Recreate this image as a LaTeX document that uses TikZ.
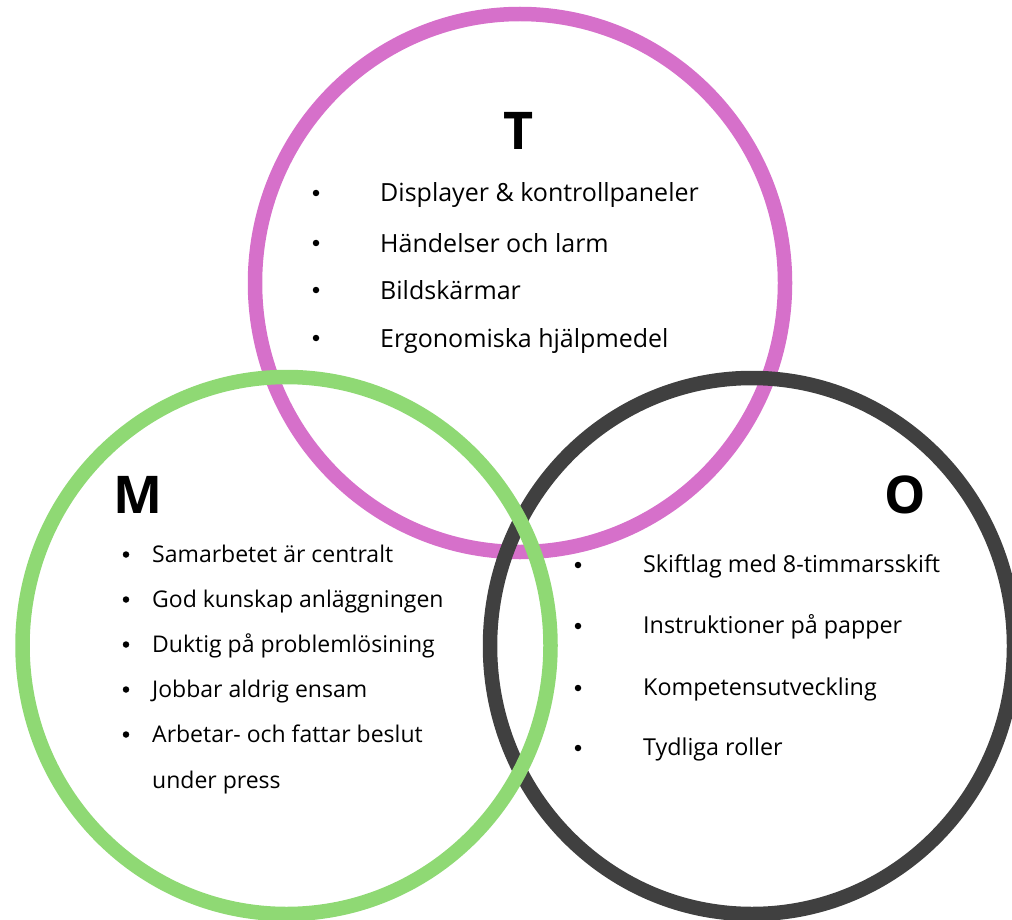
\documentclass[tikz,border=0pt]{standalone}
\usepackage{fontspec}
\setmainfont{Open Sans}
\definecolor{tpink}{RGB}{214,112,202}
\definecolor{mgreen}{RGB}{143,217,116}
\definecolor{odark}{RGB}{64,64,64}
\tikzset{
  ring/.style={line width=14.5pt},
  head/.style={font=\fontsize{52}{52}\selectfont\bfseries, anchor=base, inner sep=0pt},
  itemT/.style={font=\fontsize{25}{25}\selectfont, anchor=base west, inner sep=0pt},
  itemM/.style={font=\fontsize{23}{23}\selectfont, anchor=base west, inner sep=0pt},
  itemO/.style={font=\fontsize{23.3}{23.3}\selectfont, anchor=base west, inner sep=0pt},
  bul/.style={circle, fill=black, inner sep=0pt, minimum size=6.5pt}
}
\begin{document}
\begin{tikzpicture}[x=1pt,y=-1pt]
\useasboundingbox (0,0) rectangle (1012,920);
\begin{scope}
\clip (0,0) rectangle (1012,920);
\draw[ring, tpink] (520,283) ellipse [x radius=265, y radius=269];
\draw[ring, odark] (752,646) ellipse [x radius=262, y radius=268];
\draw[ring, mgreen] (286.5,645.5) ellipse [x radius=264, y radius=268.5];
\end{scope}
% headings
\node[head] (T) at (519,150) {T};
\node[head] (M) at (138,513) {M};
\node[head] (O) at (905,513) {O};
% T items
\foreach \y/\t [count=\i] in {202/{Displayer \& kontrollpaneler},252/{Händelser och larm},299/{Bildskärmar},347/{Ergonomiska hjälpmedel}}{
  \node[bul] (tb\i) at (316,\y-9) {};
  \node[itemT] (tt\i) at (380,\y) {\t};
}
% M items
\foreach \y/\t [count=\i] in {562/{Samarbetet är centralt},607/{God kunskap anläggningen},652/{Duktig på problemlösining},697/{Jobbar aldrig ensam},742/{Arbetar- och fattar beslut}}{
  \node[bul] (mb\i) at (126,\y-7.5) {};
  \node[itemM] (mt\i) at (152,\y) {\t};
}
\node[itemM] (mt6) at (152,788) {under press};
% O items
\foreach \y/\t [count=\i] in {572/{Skiftlag med 8-timmarsskift},633/{Instruktioner på papper},695/{Kompetensutveckling},755/{Tydliga roller}}{
  \node[bul] (ob\i) at (578,\y-7) {};
  \node[itemO] (ot\i) at (643,\y) {\t};
}
\end{tikzpicture}
\end{document}
